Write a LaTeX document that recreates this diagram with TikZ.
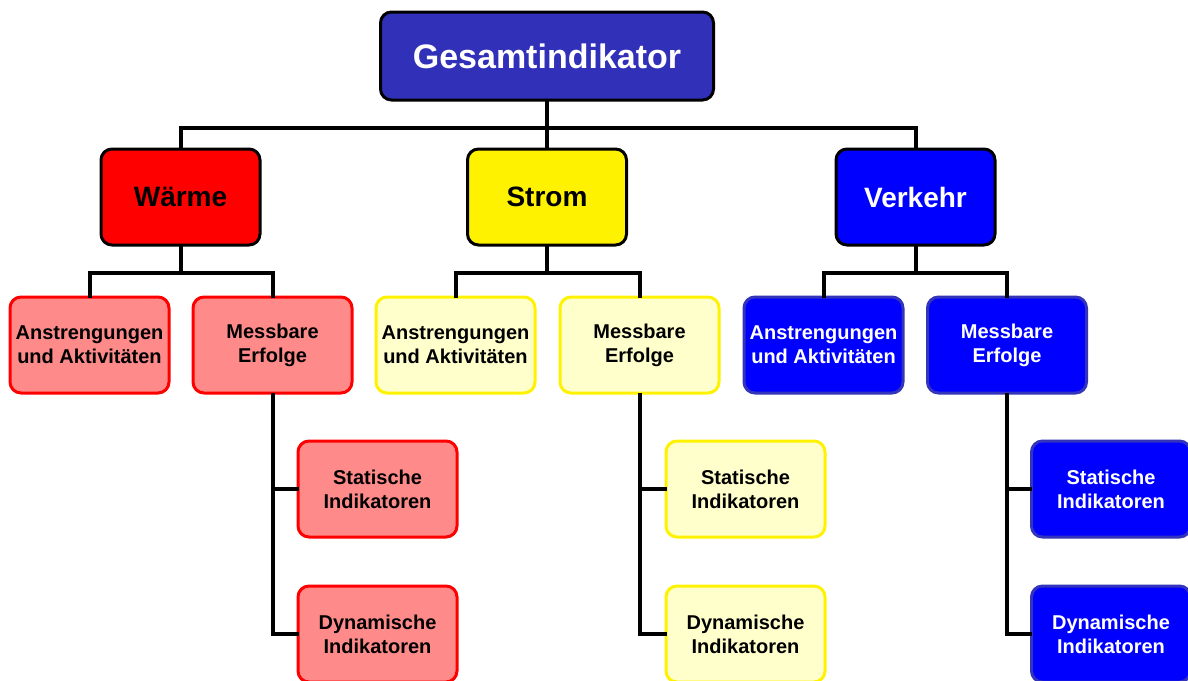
\documentclass[tikz,border=0pt]{standalone}
\usepackage{fontspec}
\setmainfont{Liberation Sans}
\usetikzlibrary{positioning}

\definecolor{topblue}{RGB}{48,48,184}
\definecolor{lightred}{RGB}{255,138,138}
\definecolor{lightyellow}{RGB}{255,255,204}
\definecolor{edgeblue}{RGB}{51,51,187}

\begin{document}
\begin{tikzpicture}[
  x=1pt,y=-1pt,
  box/.style={draw,rounded corners=11pt,line width=3pt,align=center,inner xsep=2pt,minimum width=159pt,minimum height=96pt,font=\bfseries\fontsize{20}{24}\selectfont},
  headbox/.style={box,draw=black,minimum width=333pt,minimum height=88pt,font=\bfseries\fontsize{34}{40}\selectfont},
  areabox/.style={box,draw=black,font=\bfseries\fontsize{28}{32}\selectfont},
  redbox/.style={box,draw=red,fill=lightred},
  yellowbox/.style={box,draw=yellow,fill=lightyellow},
  bluebox/.style={box,draw=edgeblue,fill=blue,text=white},
  link/.style={line width=4pt,line cap=rect}
]
\useasboundingbox (0,0) rectangle (1188,680);
\clip (0,0) rectangle (1188,680);

\node[headbox,fill=topblue,text=white] (ges) at (547,56) {Gesamtindikator};

% Bereiche
\node[areabox,fill=red] (waerme) at (180.5,197) {Wärme};
\node[areabox,fill=yellow] (strom) at (547,197) {Strom};
\node[areabox,fill=blue,text=white] (verkehr) at (915.5,197) {Verkehr};

% Waerme
\node[redbox] (wAnst) at (89.5,345) {Anstrengungen\\und Aktivitäten};
\node[redbox] (wMess) at (272.5,345) {Messbare\\Erfolge};
\node[redbox] (wStat) at (377.5,489) {Statische\\Indikatoren};
\node[redbox] (wDyn) at (377.5,634) {Dynamische\\Indikatoren};

% Strom
\node[yellowbox] (sAnst) at (455.5,345) {Anstrengungen\\und Aktivitäten};
\node[yellowbox] (sMess) at (639.5,345) {Messbare\\Erfolge};
\node[yellowbox] (sStat) at (745.5,489) {Statische\\Indikatoren};
\node[yellowbox] (sDyn) at (745.5,634) {Dynamische\\Indikatoren};

% Verkehr
\node[bluebox] (vAnst) at (823.5,345) {Anstrengungen\\und Aktivitäten};
\node[bluebox] (vMess) at (1007,345) {Messbare\\Erfolge};
\node[bluebox] (vStat) at (1111,489) {Statische\\Indikatoren};
\node[bluebox] (vDyn) at (1111,634) {Dynamische\\Indikatoren};

% Verbindungen
\draw[link] (ges.south) -- ++(0,26) coordinate (j0);
\draw[link] (waerme.north) |- (j0) -| (verkehr.north);
\draw[link] (j0) -- (strom.north);

\draw[link] (waerme.south) -- ++(0,26) coordinate (jw);
\draw[link] (wAnst.north) |- (jw) -| (wMess.north);
\draw[link] (wMess.south) |- (wStat.west);
\draw[link] (wMess.south) |- (wDyn.west);

\draw[link] (strom.south) -- ++(0,26) coordinate (js);
\draw[link] (sAnst.north) |- (js) -| (sMess.north);
\draw[link] (sMess.south) |- (sStat.west);
\draw[link] (sMess.south) |- (sDyn.west);

\draw[link] (verkehr.south) -- ++(0,26) coordinate (jv);
\draw[link] (vAnst.north) |- (jv) -| (vMess.north);
\draw[link] (vMess.south) |- (vStat.west);
\draw[link] (vMess.south) |- (vDyn.west);
\end{tikzpicture}
\end{document}
